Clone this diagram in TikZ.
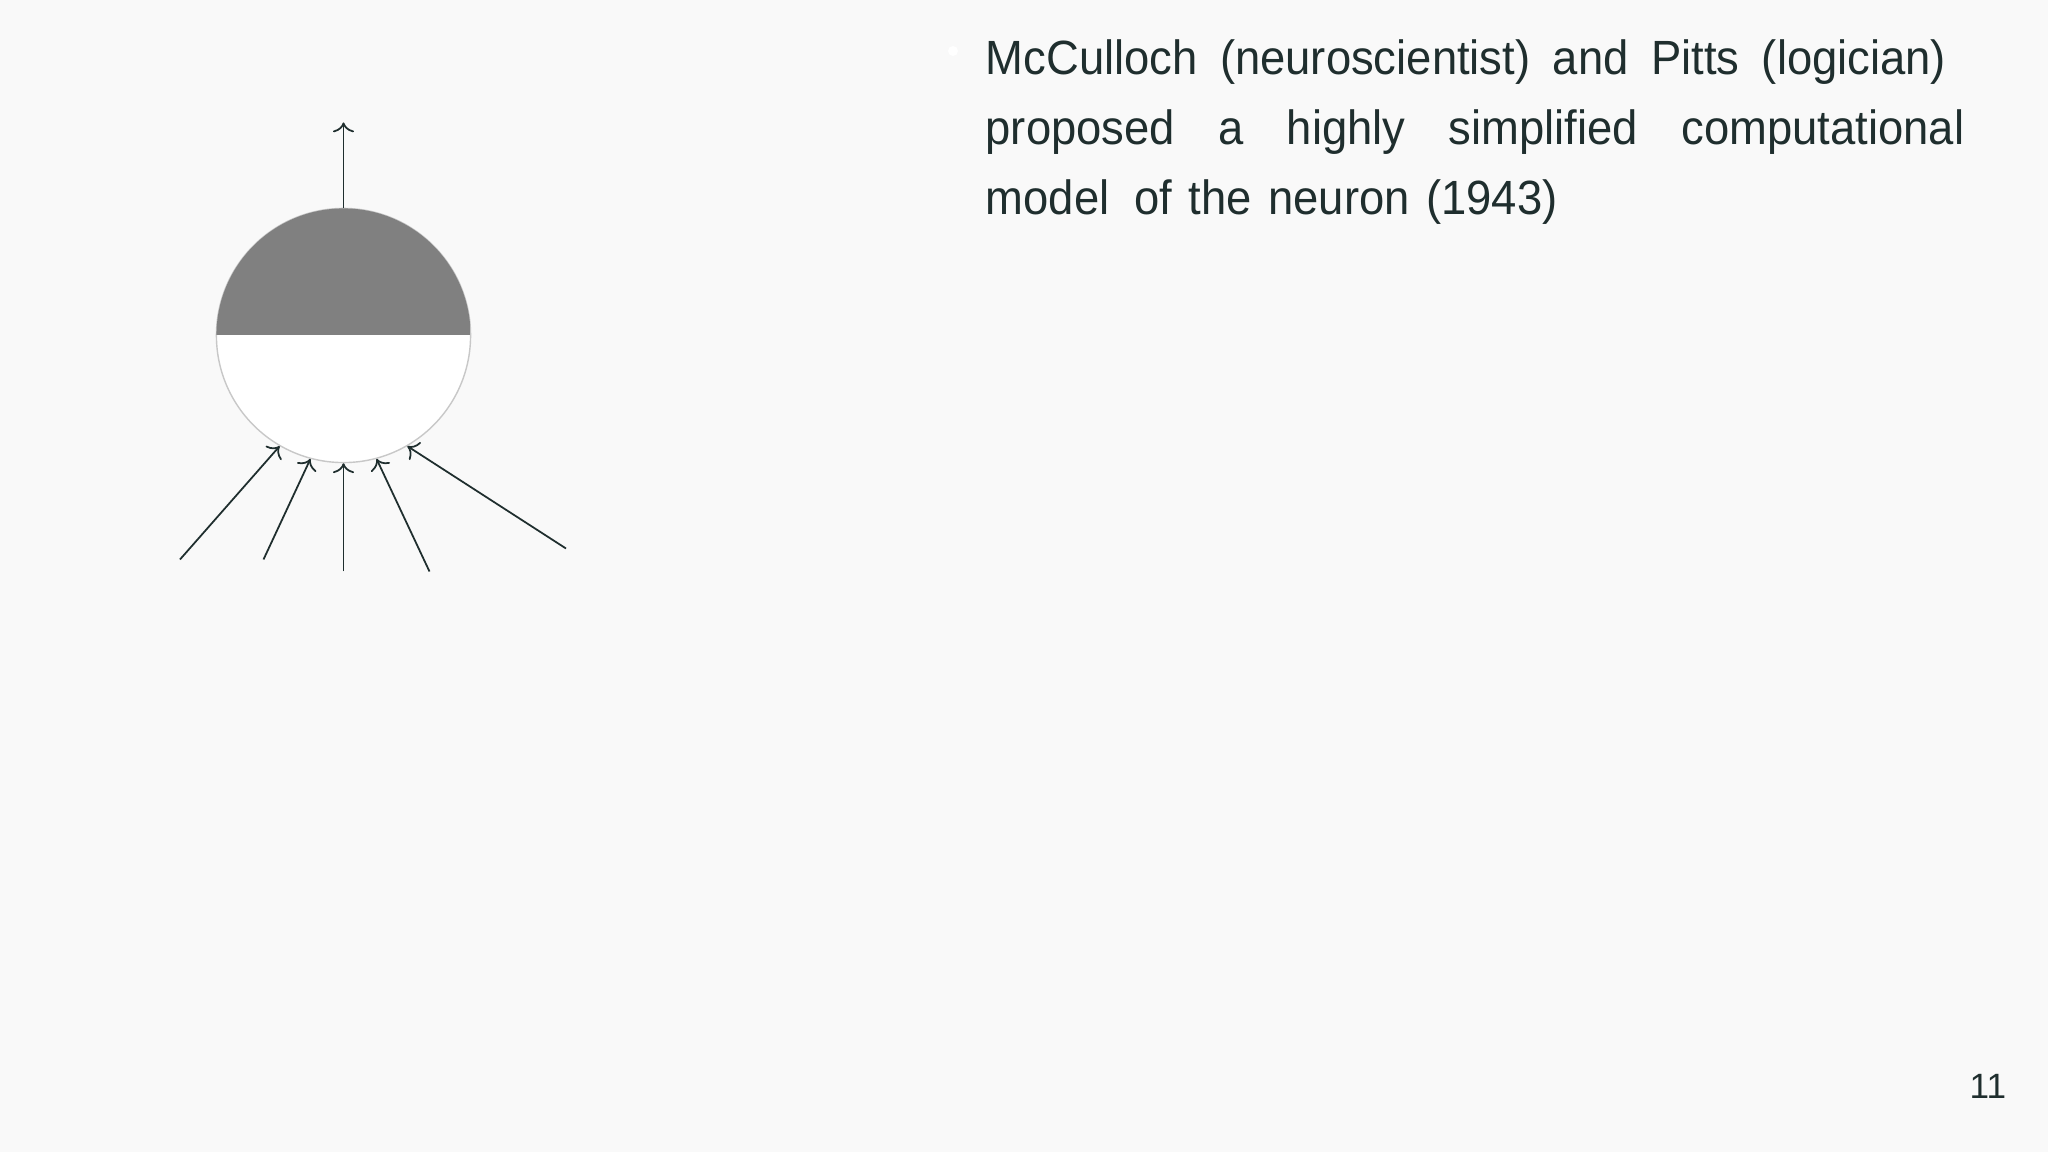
\documentclass[tikz,border=0pt]{standalone}
\usepackage{fontspec}
\setmainfont{Liberation Sans}
\newfontfamily\slidefont[FakeStretch=0.945,WordSpace=1.3]{Liberation Sans}
\usepackage{tikz}
\usetikzlibrary{calc}
\usetikzlibrary{arrows.meta}
\definecolor{inkcol}{HTML}{1F2E2E}
\definecolor{pagecol}{HTML}{F9F9F9}
\definecolor{somacol}{HTML}{808080}
\definecolor{rimcol}{HTML}{C8C8C8}
\tikzset{>={To[length=2.8pt,width=6pt]}}
\tikzset{dot/.style={inner sep=0pt,circle,minimum size=0.1cm,fill=white}}
\tikzset{txt/.style={inner sep=0pt,anchor=base west,text=inkcol,font=\slidefont\fontsize{13.66pt}{20pt}\selectfont}}
\tikzset{wire/.style={->,draw=inkcol,line width=0.5pt}}

\begin{document}
\begin{tikzpicture}[x=0.01cm,y=-0.01cm]
                    \fill[pagecol] (0,0) rectangle (2048,1152);
                    \useasboundingbox (0,0) rectangle (2048,1152);

                    \node[circle, inner sep=0pt, minimum size=2.54cm, fill=white, draw=rimcol, line width=0.4pt] (N) at (343.5,335.5) {};
                    \begin{scope}
                        \clip (N.center) circle[radius=1.27cm];
                        \fill[somacol] (N.west) rectangle (N.east |- N.north);
                    \end{scope}

                    \coordinate (O) at (343.5,122.5);
                    \coordinate (I1) at (180,559.5);
                    \coordinate (I2) at (263.5,559.5);
                    \coordinate (I3) at (343.5,571.5);
                    \coordinate (I4) at (429.5,571.5);
                    \coordinate (I5) at (566,548.5);

                    \draw[wire] (N.north) -- (O);
                    \draw[wire] (I1) -- (N.-120);
                    \draw[wire] (I2) -- (N.-105);
                    \draw[wire] (I3) -- (N.-90);
                    \draw[wire] (I4) -- (N.-75);
                    \draw[wire] (I5) -- (N.-60);

                    \node[dot] (B) at (953,51) {};
                    \node[txt] (L1) at (985,75) {\makebox[9.60cm][s]{McCulloch (neuroscientist) and Pitts (logician)}};
                    \node[txt] (L2) at (985,145) {\makebox[9.78cm][s]{proposed a highly simplified computational}};
                    \node[txt] (L3) at (985,215) {model\hspace{0.09cm} of the neuron (1943)};

                    \node[txt, font=\setmainfont{Liberation Sans}\fontsize{10pt}{12pt}\selectfont] (P) at (1969,1098.5) {11};
                \end{tikzpicture}
\end{document}
